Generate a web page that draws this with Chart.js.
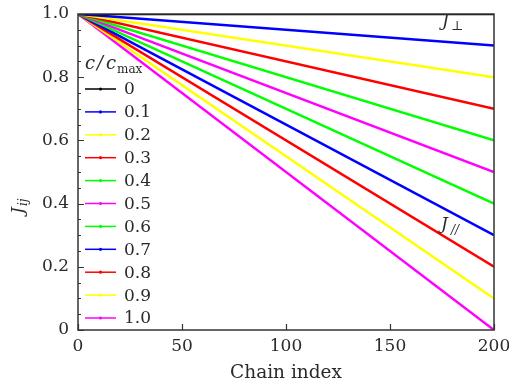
<!DOCTYPE html>
<html>
<head>
<meta charset="utf-8">
<script src="https://cdn.jsdelivr.net/npm/chart.js@4/dist/chart.umd.min.js"></script>
<style>
  html, body { margin: 0; padding: 0; background: #fff; }
  #wrap { width: 509px; height: 387px; }
</style>
</head>
<body>
<div id="wrap"><canvas id="mycanvas" width="509" height="387"></canvas></div>
<script>
// chain index at the two ends of every line
var chainIndex = [0, 200];
// c / c_max for each curve
var ratios = ["0", "0.1", "0.2", "0.3", "0.4", "0.5", "0.6", "0.7", "0.8", "0.9", "1.0"];
// J_ij at chain index 0 and 200
var jStart = [1.0, 1.0, 1.0, 1.0, 1.0, 1.0, 1.0, 1.0, 1.0, 1.0, 1.0];
var jEnd   = [1.0, 0.9, 0.8, 0.7, 0.6, 0.5, 0.4, 0.3, 0.2, 0.1, 0.0];
var colors = ["#000000", "#0000ff", "#ffff00", "#ff0000", "#00ff00", "#ff00ff",
              "#00ff00", "#0000ff", "#ff0000", "#ffff00", "#ff00ff"];
var xTicks = [0, 50, 100, 150, 200];
var yTicks = [0, 0.2, 0.4, 0.6, 0.8, 1.0];

var serif = "'DejaVu Serif', 'Liberation Serif', serif";
var ink = '#2a2a2a';

var datasets = [];
for (var i = 0; i < ratios.length; i++) {
  datasets.push({
    label: ratios[i],
    data: [{x: chainIndex[0], y: jStart[i]}, {x: chainIndex[1], y: jEnd[i]}],
    borderColor: colors[i],
    backgroundColor: colors[i],
    borderWidth: 2.5,
    pointRadius: 0,
    fill: false,
    tension: 0
  });
}

var extras = {
  id: 'extras',
  afterDatasetsDraw: function(chart) {
    var ctx = chart.ctx, a = chart.chartArea;
    var xs = chart.scales.x, ys = chart.scales.y;
    ctx.save();
    // frame
    ctx.strokeStyle = '#333';
    ctx.lineWidth = 1.5;
    ctx.strokeRect(a.left, a.top, a.right - a.left, a.bottom - a.top);
    // inward ticks
    ctx.lineWidth = 1.2;
    ctx.beginPath();
    for (var v = 0; v <= 1.0001; v += 0.05) {
      var y = Math.round(ys.getPixelForValue(v)) + 0.5;
      var major = Math.abs(v / 0.2 - Math.round(v / 0.2)) < 1e-6;
      ctx.moveTo(a.left, y);
      ctx.lineTo(a.left + (major ? 6 : 3), y);
    }
    xTicks.forEach(function(t) {
      var x = Math.round(xs.getPixelForValue(t)) + 0.5;
      ctx.moveTo(x, a.bottom);
      ctx.lineTo(x, a.bottom - 6);
    });
    ctx.stroke();

    // legend
    var lx0 = 85, lx1 = 116, ty = 89, dy = 22.9;
    ctx.fillStyle = ink;
    ctx.textBaseline = 'middle';
    ctx.textAlign = 'left';
    ctx.font = 'italic 18px ' + serif;
    ctx.fillText('c', 85, 64);
    ctx.fillText('/', 97, 64);
    ctx.fillText('c', 106, 64);
    ctx.font = '12px ' + serif;
    ctx.fillText('max', 117, 70);
    chart.data.datasets.forEach(function(ds, k) {
      var y = ty + k * dy;
      ctx.strokeStyle = ds.borderColor;
      ctx.lineWidth = 1.5;
      ctx.beginPath();
      ctx.moveTo(lx0, y);
      ctx.lineTo(lx1, y);
      ctx.stroke();
      ctx.fillStyle = ds.borderColor;
      ctx.beginPath();
      ctx.arc((lx0 + lx1) / 2, y, 1.6, 0, Math.PI * 2);
      ctx.fill();
      ctx.fillStyle = ink;
      ctx.font = '17px ' + serif;
      ctx.fillText(ds.label, 124, y + 1);
    });

    // annotations
    ctx.font = 'italic 17px ' + serif;
    ctx.fillText('J', 442, 22);
    ctx.font = '13px ' + serif;
    ctx.fillText('\u22A5', 451, 27);
    ctx.font = 'italic 17px ' + serif;
    ctx.fillText('J', 441, 225);
    ctx.font = 'italic 12px ' + serif;
    ctx.fillText('//', 451, 231);

    // y axis title
    ctx.translate(19, 205);
    ctx.rotate(-Math.PI / 2);
    ctx.font = 'italic 17px ' + serif;
    ctx.fillText('J', -9, 0);
    ctx.font = 'italic 12px ' + serif;
    ctx.fillText('ij', -1, 5);
    ctx.restore();
  }
};

var ctx = document.getElementById('mycanvas');
var LineGraph = new Chart(ctx, {
  type: 'line',
  data: { datasets: datasets },
  options: {
    animation: false,
    responsive: false,
    layout: { padding: { top: 14, right: 15, left: 0, bottom: 0 } },
    plugins: { legend: { display: false }, tooltip: { enabled: false } },
    scales: {
      x: {
        type: 'linear', min: 0, max: 200,
        afterBuildTicks: function(s) { s.ticks = xTicks.map(function(v) { return {value: v}; }); },
        afterFit: function(s) { s.height = 57; s.paddingLeft = 0; s.paddingRight = 0; },
        grid: { display: false, drawTicks: false },
        border: { display: false },
        ticks: { color: ink, font: { family: serif, size: 17 }, padding: 6, maxRotation: 0 },
        title: { display: true, text: 'Chain index', color: ink, font: { family: serif, size: 18.5 }, padding: { top: 0, bottom: 3 } }
      },
      y: {
        type: 'linear', min: 0, max: 1,
        afterBuildTicks: function(s) { s.ticks = yTicks.map(function(v) { return {value: v}; }); },
        afterFit: function(s) { s.width = 78; s.paddingTop = 0; s.paddingBottom = 0; },
        grid: { display: false, drawTicks: false },
        border: { display: false },
        ticks: {
          color: ink, font: { family: serif, size: 17 }, padding: 9,
          callback: function(v) { return v === 0 ? '0' : v.toFixed(1); }
        }
      }
    }
  },
  plugins: [extras]
});
</script>
</body>
</html>
